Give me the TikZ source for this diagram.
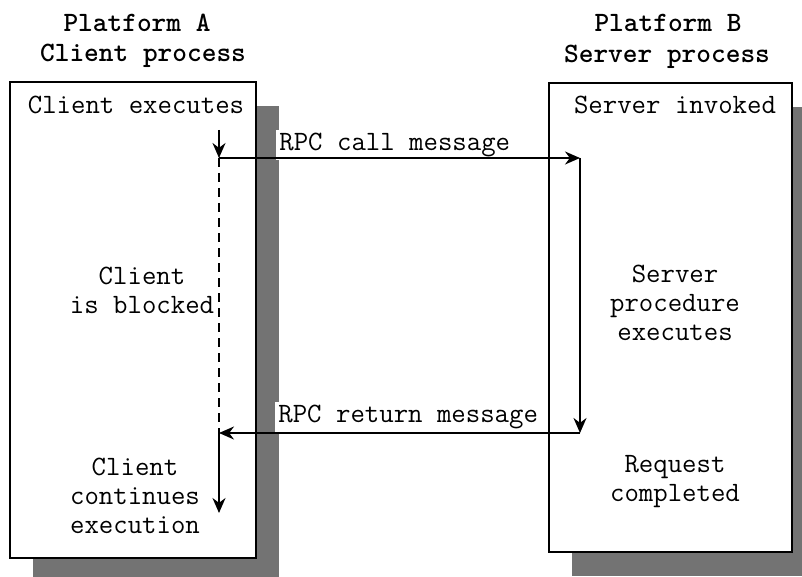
\documentclass[tikz,border=0pt]{standalone}
\usetikzlibrary{arrows.meta,shadows}
\tikzset{
  lane/.style={draw, line width=1.3pt, fill=white, inner sep=0pt,
    drop shadow={shadow xshift=11.5pt, shadow yshift=-12pt, fill=black!55, opacity=1}},
  txt/.style={font=\ttfamily\fontsize{14}{14.5}\selectfont, align=center, inner sep=0pt},
  ttl/.style={font=\ttfamily\bfseries\fontsize{14}{14.5}\selectfont, inner sep=0pt},
  flow/.style={line width=1pt, -{Stealth[length=7.5pt,width=6.5pt]}},
  msg/.style={txt, fill=white, inner sep=1.5pt, anchor=west},
  wait/.style={line width=0.8pt, dash pattern=on 4.5pt off 3pt}
}
\begin{document}
\begin{tikzpicture}[x=0.5pt,y=-0.5pt]
\useasboundingbox (0,0) rectangle (802,577);

% process boxes with shadows
\node[lane, minimum width=123pt, minimum height=238pt] (A) at (133,320) {};
\node[lane, minimum width=121.5pt, minimum height=234.5pt] (B) at (670.5,317.5) {};

% headings
\node[ttl] (ta) at (137,23) {Platform A};
\node[ttl] (pa) at (143,56) {Client process};
\node[ttl] (tb) at (668,23) {Platform B};
\node[ttl] (pb) at (667,57) {Server process};

% state texts
\node[txt] (ce) at (136,105) {Client executes};
\node[txt] (si) at (675,105) {Server invoked};
\node[txt] (cb) at (142,290) {Client\\is blocked};
\node[txt] (sp) at (675,303) {Server\\procedure\\executes};
\node[txt] (cc) at (135,496) {Client\\continues\\execution};
\node[txt] (rc) at (675,482) {Request\\completed};

% message labels
\node[msg] (m1) at (276,145) {RPC call message};
\node[msg] (m2) at (275,417) {RPC return message};

% control flow points
\coordinate (c0) at (219,130);
\coordinate (c1) at (219,158);
\coordinate (s0) at (580,158);
\coordinate (s1) at (580,433);
\coordinate (c2) at (219,433);
\coordinate (c3) at (219,513);

\draw[wait] (c1) -- (c2);
\draw[flow] (c0) -- (c1);
\draw[flow] (c1) -- (s0);
\draw[flow] (s0) -- (s1);
\draw[flow] (s1) -- (c2);
\draw[flow] (c2) -- (c3);
\end{tikzpicture}
\end{document}
